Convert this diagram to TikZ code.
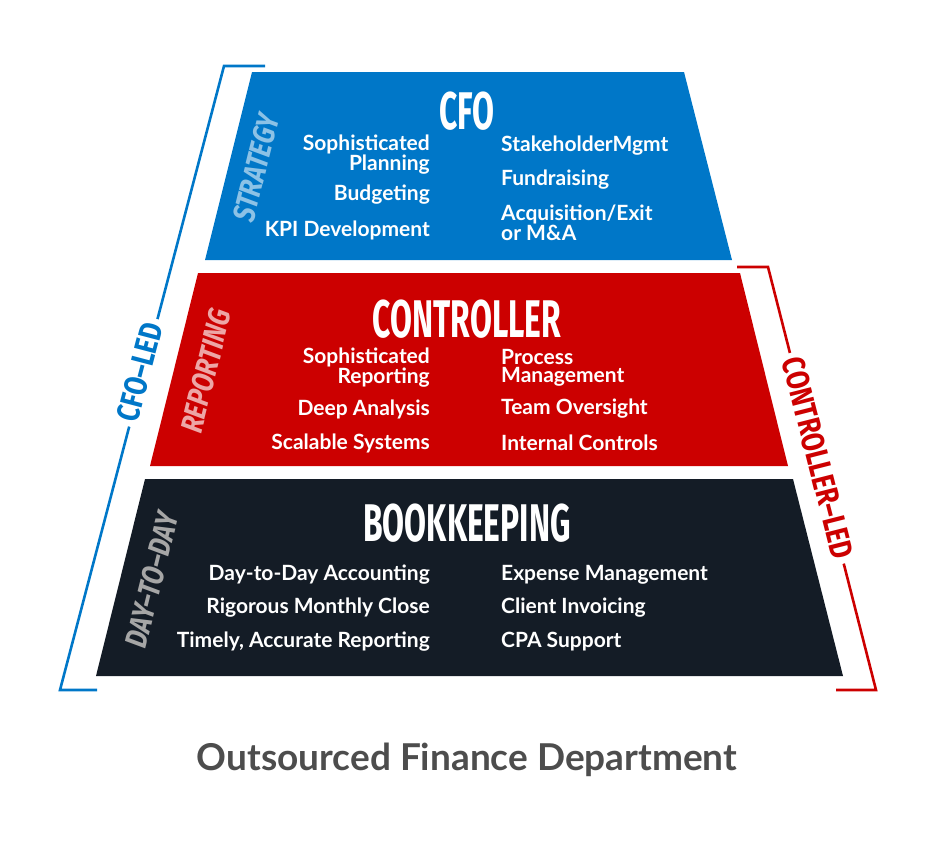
\documentclass[tikz,border=0pt]{standalone}
\usepackage{fontspec}
\setmainfont{Lato}
\newfontfamily\condfont[FakeStretch=0.6]{Fira Sans}
\newfontfamily\leadfont[FakeStretch=0.8]{Fira Sans}
\usetikzlibrary{positioning}

\definecolor{cfoblue}{HTML}{0077C8}
\definecolor{ctrlred}{HTML}{CC0000}
\definecolor{bknavy}{HTML}{141C26}
\definecolor{capgray}{HTML}{4D4D4D}

\begin{document}
\begin{tikzpicture}[
    x=1pt, y=-1pt,
    title/.style={text=white, font=\condfont\bfseries\fontsize{53}{53}\selectfont, inner sep=0pt},
    itemL/.style={text=white, anchor=east, align=right, inner sep=0pt, font=\bfseries\fontsize{21}{18}\selectfont},
    itemR/.style={text=white, anchor=west, align=left, inner sep=0pt, font=\bfseries\fontsize{21}{18}\selectfont},
    layer/.style={rotate=76, inner sep=0pt, font=\leadfont\bfseries\itshape\fontsize{31}{31}\selectfont},
    lead/.style={fill=white, inner sep=5pt, font=\leadfont\bfseries\fontsize{32}{32}\selectfont},
    bracket/.style={line width=2.6pt}
]
\useasboundingbox (0,0) rectangle (935,841);

% tiers
\fill[cfoblue] (252,72) -- (684,72) -- (732,260) -- (205,260) -- cycle;
\fill[ctrlred] (198,273) -- (740,273) -- (788,466) -- (150,466) -- cycle;
\fill[bknavy] (145,479) -- (793,479) -- (843,676) -- (96,676) -- cycle;

% CFO tier
\node (cfo) [title] at (467,111) {CFO};
\node (strategy) [layer, text=cfoblue!45] at (256,168) {STRATEGY};
\node (cfoL1) [itemL] at (430,155) {Sophisticated\\Planning};
\node (cfoL2) [itemL] at (430,195) {Budgeting};
\node (cfoL3) [itemL] at (430,230) {KPI Development};
\node (cfoR1) [itemR] at (501,146) {StakeholderMgmt};
\node (cfoR2) [itemR] at (501,180) {Fundraising};
\node (cfoR3) [itemR] at (501,223) {Acquisition/Exit\\or M\&A};

% Controller tier
\node (ctrl) [title] at (467,319) {CONTROLLER};
\node (reporting) [layer, text=ctrlred!35] at (206,371) {REPORTING};
\node (ctrlL1) [itemL] at (430,368) {Sophisticated\\Reporting};
\node (ctrlL2) [itemL] at (430,409) {Deep Analysis};
\node (ctrlL3) [itemL] at (430,443) {Scalable Systems};
\node (ctrlR1) [itemR] at (501,368) {Process\\Management};
\node (ctrlR2) [itemR] at (501,409) {Team Oversight};
\node (ctrlR3) [itemR] at (501,443) {Internal Controls};

% Bookkeeping tier
\node (bk) [title] at (467,523) {BOOKKEEPING};
\node (daytoday) [layer, text=gray!70] at (152,580) {DAY–TO–DAY};
\node (bkL1) [itemL] at (430,575) {Day-to-Day Accounting};
\node (bkL2) [itemL] at (430,608) {Rigorous Monthly Close};
\node (bkL3) [itemL] at (430,642) {Timely, Accurate Reporting};
\node (bkR1) [itemR] at (501,575) {Expense Management};
\node (bkR2) [itemR] at (501,608) {Client Invoicing};
\node (bkR3) [itemR] at (501,642) {CPA Support};

% brackets
\coordinate (cfoTopEnd) at (265,66);
\coordinate (cfoTop) at (224,66);
\coordinate (cfoBot) at (60,690);
\coordinate (cfoBotEnd) at (97,690);
\draw[bracket, cfoblue] (cfoTopEnd) -- (cfoTop) -- (cfoBot) -- (cfoBotEnd);
\node (cfoled) [lead, text=cfoblue, rotate=75.3] at (140,372) {CFO–LED};

\coordinate (ctrlTopEnd) at (737,267);
\coordinate (ctrlTop) at (768,267);
\coordinate (ctrlBot) at (876,690);
\coordinate (ctrlBotEnd) at (836,690);
\draw[bracket, ctrlred] (ctrlTopEnd) -- (ctrlTop) -- (ctrlBot) -- (ctrlBotEnd);
\node (ctrlled) [lead, text=ctrlred, rotate=-75.7] at (818,458) {CONTROLLER–LED};

% caption
\node (caption) [text=capgray, font=\bfseries\fontsize{37}{37}\selectfont] at (467,760) {Outsourced Finance Department};
\end{tikzpicture}
\end{document}
